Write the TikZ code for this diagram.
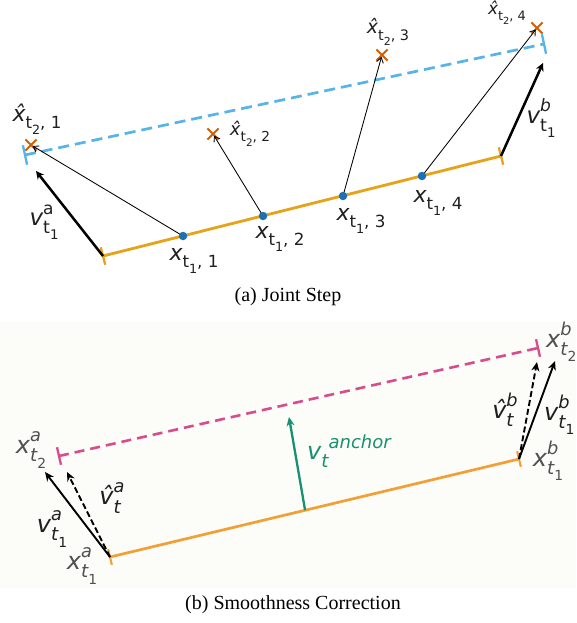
\documentclass[tikz,border=0pt]{standalone}
\usepackage{fontspec}
\setmainfont{DejaVu Sans}
\newfontfamily\capfont{Liberation Serif}
\usetikzlibrary{arrows.meta,calc,shapes.misc}
\definecolor{orT}{HTML}{E6A219}
\definecolor{blT}{HTML}{56B4E9}
\definecolor{crT}{HTML}{D55E00}
\definecolor{dtT}{HTML}{1F70B0}
\definecolor{orB}{HTML}{F2A035}
\definecolor{pkB}{HTML}{D94C8A}
\definecolor{gnB}{HTML}{17916F}
\definecolor{bgB}{HTML}{FCFCF9}
\definecolor{txG}{HTML}{505050}
\newcommand{\lo}[1]{\raisebox{-0.34em}{\scalebox{0.76}{#1}}}
\newcommand{\hi}[1]{\raisebox{0.5em}{\scalebox{0.74}{#1}}}
\newcommand{\supsub}[2]{\makebox[0pt][l]{\hi{#1}}\lo{#2}}
\newcommand{\supsubw}[2]{\makebox[0pt][l]{\lo{#2}}\hi{#1}}
\newcommand{\fsz}[1]{\fontsize{#1}{#1}\selectfont}
\tikzset{
  lbl/.style={inner sep=0pt, text=black!88},
  lblB/.style={inner sep=0pt, text=txG},
  dotnode/.style={circle, fill=dtT, inner sep=0pt, minimum size=8.5pt},
  crossnode/.style={cross out, draw=crT, line width=2.1pt, inner sep=0pt, minimum size=9pt},
  thinarrow/.style={line width=0.85pt, -{Straight Barb[length=5pt,width=7pt]}},
  thickarrow/.style={line width=2.5pt, -{Stealth[length=8pt,width=8pt]}},
  barrow/.style={line width=1.9pt, -{Stealth[length=9pt,width=8pt]}},
  bdarrow/.style={line width=1.9pt, dash pattern=on 6pt off 3pt, -{Stealth[length=9pt,width=8pt]}},
  capnode/.style={inner sep=0pt, font=\capfont\fsz{20}}
}
\begin{document}
\begin{tikzpicture}[x=1pt,y=-1pt]
\useasboundingbox (0,0) rectangle (576,623);
% ---------------- (a) Joint Step ----------------
\coordinate (oa) at (103,256);
\coordinate (ob) at (501,156);
\coordinate (ba) at (25,155);
\coordinate (bb) at (544,44);
\draw[blT, line width=2.7pt, dash pattern=on 11pt off 6pt] (ba) -- (bb);
\draw[blT, line width=2.3pt] ($(ba)!10pt!90:(bb)$) -- ($(ba)!10pt!-90:(bb)$);
\draw[blT, line width=2.3pt] ($(bb)!10pt!90:(ba)$) -- ($(bb)!10pt!-90:(ba)$);
\draw[orT, line width=2.8pt] (oa) -- (ob);
\draw[orT, line width=2.3pt] ($(oa)!9pt!90:(ob)$) -- ($(oa)!9pt!-90:(ob)$);
\draw[orT, line width=2.3pt] ($(ob)!9pt!90:(oa)$) -- ($(ob)!9pt!-90:(oa)$);
\node[crossnode] (c1) at (31,145) {};
\node[crossnode] (c2) at (213,134) {};
\node[crossnode] (c3) at (382,55) {};
\node[crossnode] (c4) at (537,28) {};
\coordinate (d1) at (183,236);
\coordinate (d2) at (263,216);
\coordinate (d3) at (343,196);
\coordinate (d4) at (422,176);
\draw[thinarrow, shorten >=2pt] (d1) -- (c1.center);
\draw[thinarrow, shorten >=2pt] (d2) -- (c2.center);
\draw[thinarrow, shorten >=2pt] (d3) -- (c3.center);
\draw[thinarrow, shorten >=2pt] (d4) -- (c4.center);
\node[dotnode] (p1) at (d1) {};
\node[dotnode] (p2) at (d2) {};
\node[dotnode] (p3) at (d3) {};
\node[dotnode] (p4) at (d4) {};
\coordinate (va) at (36,171);
\coordinate (vb) at (543,63);
\draw[thickarrow] (oa) -- (va);
\draw[thickarrow] (ob) -- (vb);
% labels (a)
\node[lbl, font=\fsz{22}] (lx1) at (194,261) {{\itshape x}\lo{t\lo{1}, 1}};
\node[lbl, font=\fsz{22}] (lx2) at (280,239) {{\itshape x}\lo{t\lo{1}, 2}};
\node[lbl, font=\fsz{22}] (lx3) at (361,221) {{\itshape x}\lo{t\lo{1}, 3}};
\node[lbl, font=\fsz{22}] (lx4) at (438,203) {{\itshape x}\lo{t\lo{1}, 4}};
\node[lbl, font=\fsz{22}] (lh1) at (37,119) {{\itshape \^{x}}\lo{t\lo{2}, 1}};
\node[lbl, font=\fsz{18}] (lh2) at (250,134) {{\itshape \^{x}}\lo{t\lo{2}, 2}};
\node[lbl, font=\fsz{19}] (lh3) at (388,32) {{\itshape \^{x}}\lo{t\lo{2}, 3}};
\node[lbl, font=\fsz{17}] (lh4) at (507,13) {{\itshape \^{x}}\lo{t\lo{2}, 4}};
\node[lbl, font=\fsz{23}] (lva) at (44,222) {{\itshape v}\supsub{a}{t\lo{1}}};
\node[lbl, font=\fsz{23}] (lvb) at (541,118) {{\itshape v}\supsub{\itshape b}{t\lo{1}}};
\node[capnode] (capa) at (288,297) {(a) Joint Step};
% ---------------- (b) Smoothness Correction ----------------
\fill[bgB] (0,322) rectangle (576,588);
\coordinate (Oa) at (110,557);
\coordinate (Ob) at (519,459);
\coordinate (Pa) at (59,456);
\coordinate (Pb) at (538,348);
\draw[pkB, line width=2.6pt, dash pattern=on 10pt off 6pt] (Pa) -- (Pb);
\draw[pkB, line width=2.3pt] ($(Pa)!9pt!90:(Pb)$) -- ($(Pa)!9pt!-90:(Pb)$);
\draw[pkB, line width=2.3pt] ($(Pb)!9pt!90:(Pa)$) -- ($(Pb)!9pt!-90:(Pa)$);
\draw[orB, line width=2.7pt] (Oa) -- (Ob);
\draw[orB, line width=2.1pt] ($(Oa)!8pt!90:(Ob)$) -- ($(Oa)!8pt!-90:(Ob)$);
\draw[orB, line width=2.1pt] ($(Ob)!8pt!90:(Oa)$) -- ($(Ob)!8pt!-90:(Oa)$);
\coordinate (gs) at ($(Oa)!0.477!(Ob)$);
\coordinate (ge) at (289,417);
\draw[gnB, line width=2.3pt, -{Stealth[length=9pt,width=8pt]}] (gs) -- (ge);
\coordinate (ta1) at (45,472);
\coordinate (ta2) at (67,472);
\coordinate (tb1) at (555,361);
\coordinate (tb2) at (537,362);
\draw[barrow] (Oa) -- (ta1);
\draw[bdarrow] (Oa) -- (ta2);
\draw[barrow] (Ob) -- (tb1);
\draw[bdarrow] (Ob) -- (tb2);
% labels (b)
\node[lblB, font=\fsz{24}] (Xa2) at (31,450) {{\itshape x}\supsub{\itshape a}{\itshape t\lo{\upshape 2}}};
\node[lblB, font=\fsz{24}] (Xa1) at (82,566) {{\itshape x}\supsub{\itshape a}{\itshape t\lo{\upshape 1}}};
\node[lblB, font=\fsz{24}, anchor=west] (Xb2) at (546,342) {{\itshape x}\supsub{\itshape b}{\itshape t\lo{\upshape 2}}};
\node[lblB, font=\fsz{24}] (Xb1) at (548,461) {{\itshape x}\supsub{\itshape b}{\itshape t\lo{\upshape 1}}};
\node[lbl, font=\fsz{24}] (va1) at (52,529) {{\itshape v}\supsub{\itshape a}{\itshape t\lo{\upshape 1}}};
\node[lbl, font=\fsz{24}] (vha) at (112,498) {{\itshape \^{v}}\supsubw{\itshape a}{\itshape t}};
\node[lbl, font=\fsz{24}, anchor=west] (vb1) at (544,415) {{\itshape v}\supsub{\itshape b}{\itshape t\lo{\upshape 1}}};
\node[lbl, font=\fsz{24}] (vhb) at (505,410) {{\itshape \^{v}}\supsubw{\itshape b}{\itshape t}};
\node[inner sep=0pt, text=gnB, font=\fsz{24}, anchor=west] (anc) at (307,451) {{\itshape v}\lo{\itshape t}\raisebox{0.45em}{\scalebox{0.75}{\itshape anchor}}};
\node[capnode] (capb) at (293,605) {(b) Smoothness Correction};
\end{tikzpicture}
\end{document}
